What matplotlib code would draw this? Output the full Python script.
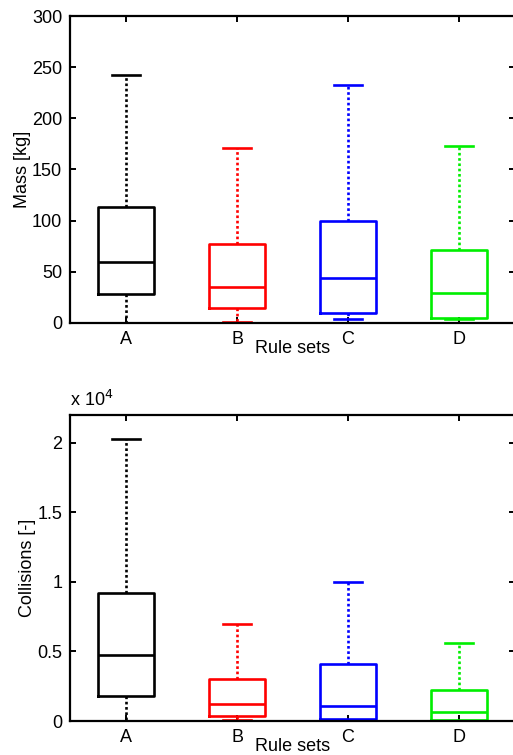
import matplotlib
matplotlib.use("Agg")
import matplotlib.pyplot as plt

plt.rcParams['font.family'] = ['Liberation Sans', 'DejaVu Sans']

rule_sets = ['A', 'B', 'C', 'D']
colors = ['black', '#ff0000', '#0000ff', '#00ee00']

# Mass [kg]: lower whisker, Q1, median, Q3, upper whisker
mass_low = [0, 1, 4, 4]
mass_q1 = [28, 15, 10, 4.6]
mass_med = [60, 35.5, 44, 29]
mass_q3 = [113.5, 77, 99.5, 71]
mass_high = [242, 171, 233, 172.5]

# Collisions [-]
coll_low = [0, 70, 50, 0]
coll_q1 = [1820, 360, 120, 70]
coll_med = [4720, 1220, 1100, 670]
coll_q3 = [9220, 2990, 4070, 2230]
coll_high = [20300, 6950, 9960, 5630]

FS = 13


def make_stats(low, q1, med, q3, high, scale=1.0):
    out = []
    for i in range(len(low)):
        out.append({'whislo': low[i] / scale, 'q1': q1[i] / scale, 'med': med[i] / scale,
                    'q3': q3[i] / scale, 'whishi': high[i] / scale, 'fliers': []})
    return out


def draw(ax, stats):
    for i, st in enumerate(stats):
        c = colors[i]
        ax.bxp([st], positions=[i + 1], widths=0.5, showfliers=False,
               boxprops=dict(color=c, linewidth=1.9),
               medianprops=dict(color=c, linewidth=1.9),
               whiskerprops=dict(color=c, linewidth=1.9, linestyle=(0, (1, 1))),
               capprops=dict(color=c, linewidth=1.9))
    ax.set_xlim(0.5, 4.5)
    ax.set_xticks([1, 2, 3, 4])
    ax.set_xticklabels(rule_sets)
    ax.tick_params(direction='in', top=True, right=True, length=4, width=1.4,
                   labelsize=FS, pad=6)
    for sp in ax.spines.values():
        sp.set_linewidth(1.6)


fig = plt.figure(figsize=(5.13, 7.55), dpi=100)

ax1 = fig.add_axes([0.1374, 0.5722, 0.8656, 0.4066])
draw(ax1, make_stats(mass_low, mass_q1, mass_med, mass_q3, mass_high))
ax1.set_ylim(0, 300)
ax1.set_yticks([0, 50, 100, 150, 200, 250, 300])
ax1.set_ylabel('Mass [kg]', fontsize=FS)
ax1.yaxis.set_label_coords(-0.088, 0.5)
ax1.set_xlabel('Rule sets', fontsize=FS)
ax1.xaxis.set_label_coords(0.5, -0.055)

ax2 = fig.add_axes([0.1374, 0.0450, 0.8656, 0.4053])
draw(ax2, make_stats(coll_low, coll_q1, coll_med, coll_q3, coll_high, scale=1e4))
ax2.set_ylim(0, 2.2)
ax2.set_yticks([0, 0.5, 1, 1.5, 2])
ax2.set_yticklabels(['0', '0.5', '1', '1.5', '2'])
ax2.set_ylabel('Collisions [-]', fontsize=FS)
ax2.yaxis.set_label_coords(-0.077, 0.5)
ax2.set_xlabel('Rule sets', fontsize=FS)
ax2.xaxis.set_label_coords(0.5, -0.055)
ax2.text(0.0, 1.015, r'x 10$^{4}$', transform=ax2.transAxes, fontsize=FS,
         ha='left', va='bottom')

fig.savefig('out.png', dpi=100)
